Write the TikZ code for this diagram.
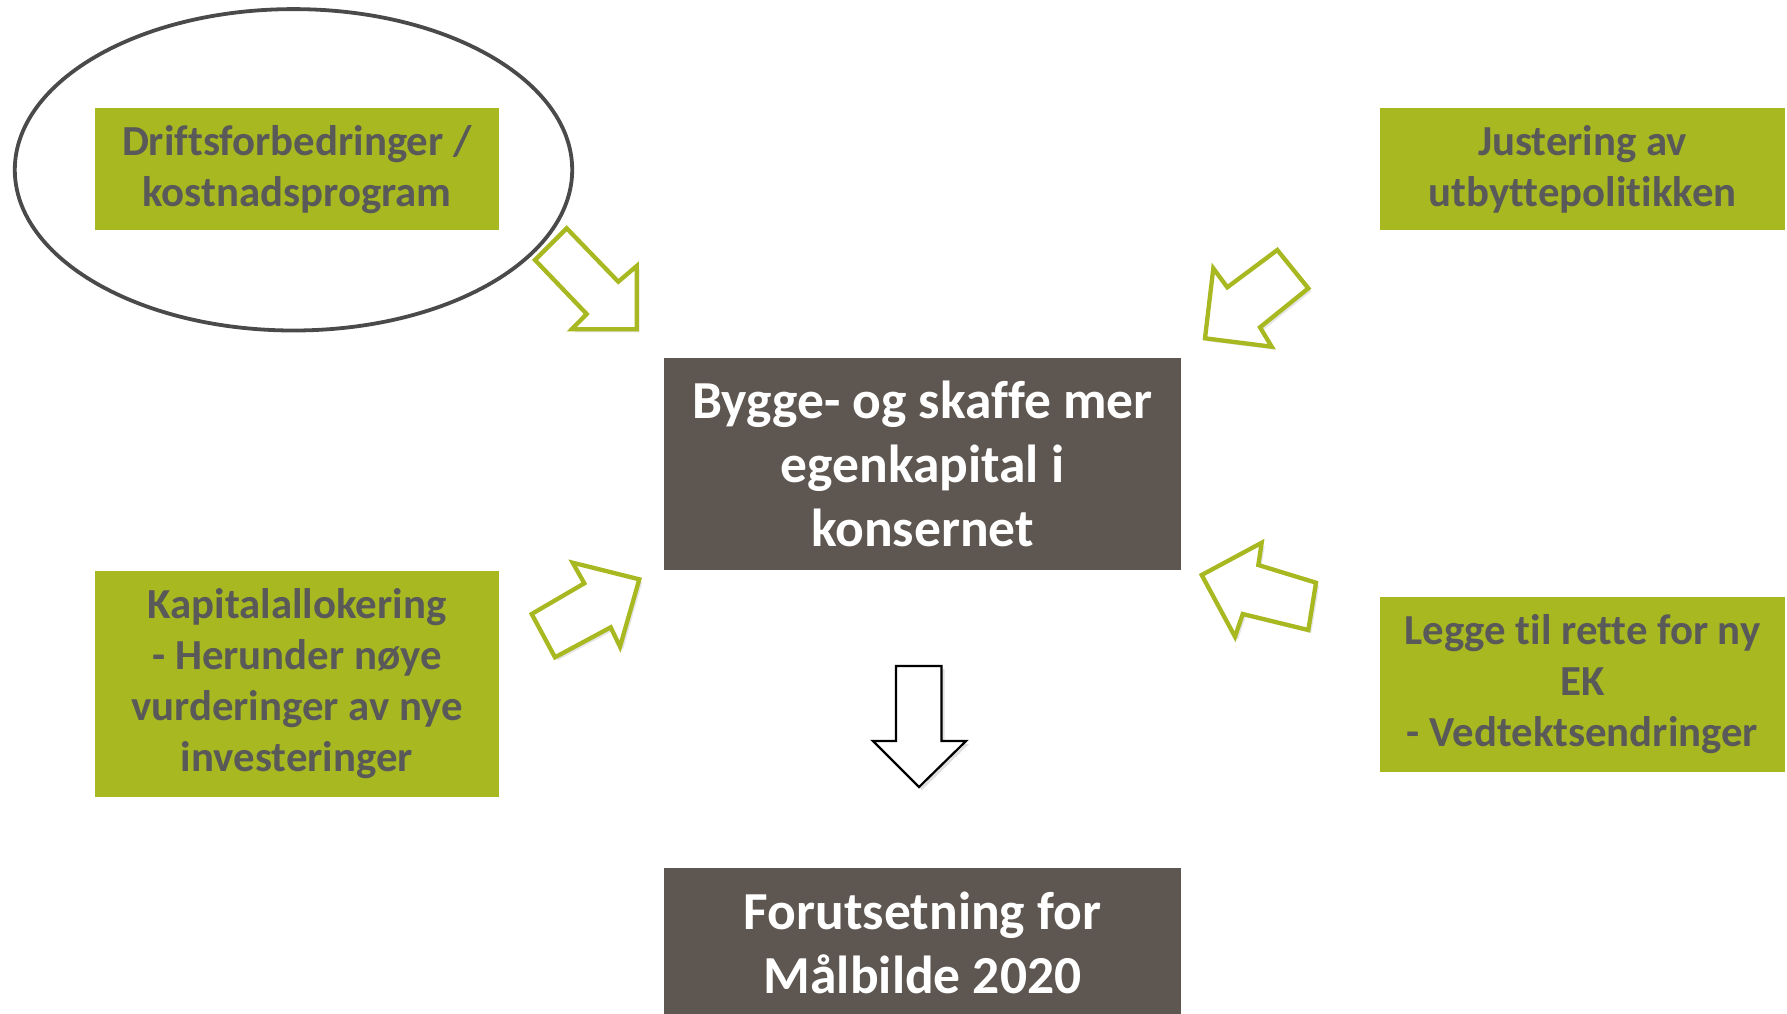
\documentclass[tikz,border=0pt]{standalone}
\usepackage{fontspec}
\setmainfont[Ligatures={NoCommon}]{Carlito}
\definecolor{olive}{HTML}{A8B820}
\definecolor{slate}{HTML}{595959}
\definecolor{umber}{HTML}{5E5650}
\definecolor{rim}{HTML}{4A4A4A}

\begin{document}
\begin{tikzpicture}[x=1pt,y=-1pt,
  lever/.style={fill=olive, text=slate, font=\fontsize{42.8}{51}\selectfont\bfseries,
    align=center, inner sep=0pt, minimum width=404.6pt},
  core/.style={fill=umber, text=white, font=\fontsize{53.5}{64}\selectfont\bfseries,
    align=center, inner sep=0pt, minimum width=516.3pt},
  push/.style={draw=olive, line width=4.3pt, fill=white, line join=miter,
    preaction={fill=black, opacity=0.10, transform canvas={shift={(3pt,-3pt)}}}},
  drop/.style={draw=black, line width=2.2pt, fill=white, line join=miter,
    preaction={fill=black, opacity=0.12, transform canvas={shift={(3pt,-3pt)}}}}]

\useasboundingbox[fill=white] (0,0) rectangle (1787,1013);

% highlighted lever
\draw[rim, line width=3.8pt] (293.5,169.8) ellipse [x radius=278.7pt, y radius=160.7pt];

% four levers
\node[lever, minimum height=121.9pt] (drift) at (296.9,169.3)
  {Driftsforbedringer /\\kostnadsprogram};
\node[lever, minimum height=121.9pt] (utbytte) at (1582.5,169.3)
  {Justering av\\utbyttepolitikken};
\node[lever, minimum height=226pt] (kapital) at (296.9,684)
  {Kapitalallokering\\- Herunder nøye\\vurderinger av nye\\investeringer};
\node[lever, minimum height=174.4pt] (legge) at (1582.5,684.4)
  {Legge til rette for ny\\EK\\- Vedtektsendringer};

% central goal and its consequence
\node[core, minimum height=212pt] (bygge) at (922.5,464)
  {Bygge- og skaffe mer\\egenkapital i\\konsernet};
\node[core, minimum height=149.2pt] (forut) at (922.5,943)
  {Forutsetning for\\Målbilde 2020};

% block arrows pointing at the central goal
\draw[push] (566.7,228.3) -- (618.3,281.7) -- (636.7,266) -- (636.7,329.3)
  -- (571.7,329.3) -- (586.7,314) -- (535,260) -- cycle;
\draw[push] (1277.3,250) -- (1308.3,288.3) -- (1260,327.3) -- (1271.7,346.7)
  -- (1205,338.3) -- (1213.3,268.3) -- (1227.3,287.3) -- cycle;
\draw[push] (531.7,614) -- (584.3,583.3) -- (572.7,562.7) -- (639.3,579.3)
  -- (620,646.7) -- (610.7,627.3) -- (555,657.3) -- cycle;
\draw[push] (1201.7,575) -- (1261.7,542.7) -- (1258.3,565) -- (1316,582.7)
  -- (1308.3,630) -- (1242.7,614) -- (1235,636.7) -- cycle;

% downward block arrow
\draw[drop] (896,666) -- (941.5,666) -- (941.5,741) -- (966,741) -- (919,787)
  -- (873,741) -- (896,741) -- cycle;
\end{tikzpicture}
\end{document}
